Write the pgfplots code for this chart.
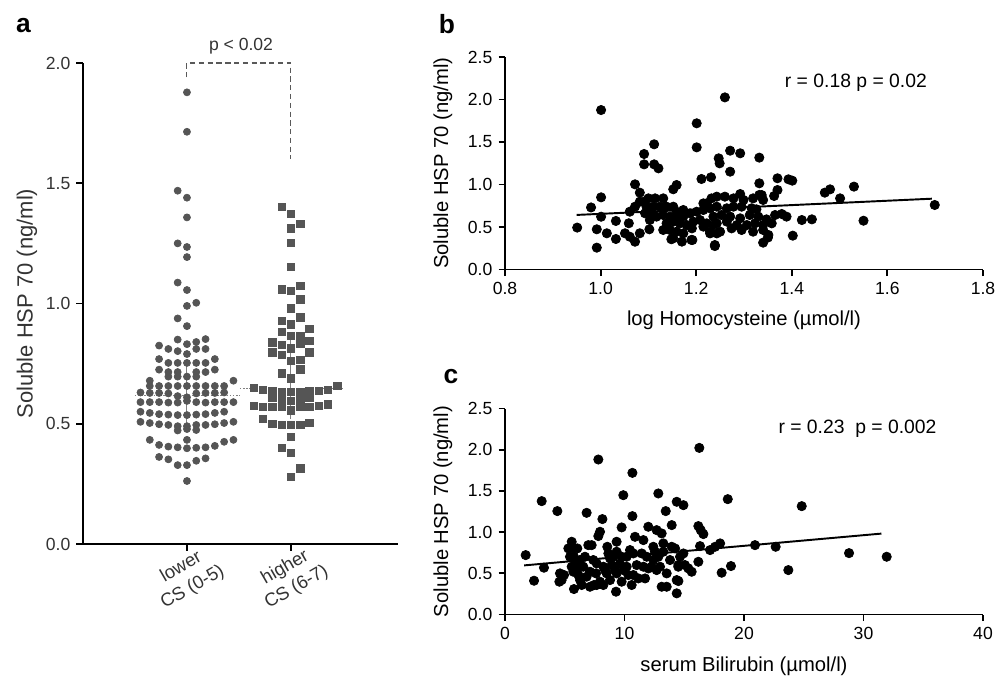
\documentclass[border=0pt]{standalone}
\usepackage{fontspec}
\setmainfont{Liberation Sans}
\usepackage{pgfplots}
\usepackage{pgfplotstable}
\pgfplotsset{compat=1.18}
\definecolor{dotgray}{HTML}{555555}
\definecolor{txtgray}{HTML}{333333}

% panel a: k = column offset in the swarm, v = HSP70 (ng/ml)
\pgfplotstableread{
k v
0 1.878
0 1.714
-1 1.469
0 1.440
0 1.358
-1 1.250
0 1.235
0 1.193
-1 1.087
0 1.056
1 1.003
0 0.990
-1 0.938
0 0.906
-1 0.850
0 0.831
1 0.840
2 0.852
-3 0.825
-2 0.811
-1 0.802
0 0.790
1 0.811
2 0.811
-3 0.769
-2 0.753
-1 0.753
0 0.753
1 0.753
2 0.753
3 0.769
-3 0.725
-2 0.715
-1 0.715
1 0.715
2 0.715
3 0.725
-2 0.696
-1 0.696
0 0.696
1 0.696
-4 0.679
5 0.679
-4 0.657
-3 0.657
-2 0.657
-1 0.657
0 0.657
1 0.657
2 0.657
3 0.657
4 0.657
-5 0.630
-4 0.628
-3 0.628
-2 0.626
1 0.626
2 0.628
3 0.628
4 0.630
-1 0.615
0 0.610
-5 0.590
-4 0.590
-3 0.590
-2 0.588
-1 0.588
0 0.595
1 0.590
2 0.588
3 0.590
4 0.590
5 0.590
-5 0.550
-4 0.545
-3 0.540
-2 0.538
-1 0.536
0 0.536
1 0.538
2 0.540
3 0.545
4 0.550
-5 0.508
-4 0.503
-3 0.498
-2 0.495
-1 0.490
0 0.490
1 0.495
2 0.495
3 0.498
4 0.503
5 0.508
-1 0.472
0 0.478
1 0.474
-4 0.433
0 0.433
4 0.425
5 0.433
-3 0.412
-2 0.405
-1 0.402
0 0.398
1 0.400
2 0.402
3 0.408
-3 0.362
-2 0.352
-1 0.328
0 0.328
1 0.346
2 0.356
0 0.262
}\lowergrp

\pgfplotstableread{
k v
-1 1.403
0 1.372
0 1.313
1 1.331
0 1.253
0 1.153
-1 1.059
0 1.052
1 1.073
1 1.017
0 0.980
-1 0.929
1 0.943
0 0.913
-1 0.883
2 0.894
0 0.866
1 0.866
-2 0.839
-1 0.827
1 0.832
2 0.845
-2 0.797
-1 0.786
0 0.814
2 0.797
0 0.761
1 0.765
-1 0.710
1 0.726
0 0.689
-4 0.650
-3 0.640
-2 0.637
-1 0.633
0 0.633
1 0.633
2 0.637
3 0.637
4 0.642
5 0.657
-2 0.610
-1 0.599
0 0.596
1 0.599
2 0.610
-4 0.575
-3 0.571
-2 0.571
-1 0.571
0 0.555
1 0.571
2 0.571
3 0.575
4 0.580
-3 0.520
-2 0.500
-1 0.496
0 0.496
1 0.496
2 0.505
0 0.446
-1 0.400
0 0.380
1 0.315
0 0.280
}\highergrp

% panel b: log homocysteine vs HSP70
\pgfplotstableread{
x y
0.951 0.493
0.980 0.730
0.992 0.473
0.992 0.257
1.001 1.876
1.001 0.849
1.001 0.621
1.013 0.426
1.032 0.571
1.032 0.359
1.051 0.426
1.059 0.544
1.061 0.386
1.072 0.327
1.072 1.002
1.082 0.426
1.082 0.904
1.091 1.359
1.091 1.237
1.112 1.473
1.112 1.237
1.121 1.190
1.102 0.473
1.159 0.994
1.152 0.944
1.201 1.720
1.201 1.437
1.211 1.065
1.231 1.085
1.247 1.308
1.249 1.249
1.260 2.025
1.271 1.398
1.292 1.367
1.271 1.151
1.332 1.316
1.370 1.073
1.393 1.061
1.401 1.045
1.332 1.014
1.370 0.935
1.363 0.865
1.332 0.877
1.469 0.904
1.480 0.943
1.530 0.975
1.501 0.837
1.292 0.888
1.421 0.582
1.442 0.590
1.550 0.574
1.402 0.398
1.239 0.276
1.340 0.316
1.350 0.376
1.699 0.759
1.190 0.348
1.148 0.356
1.091 0.798
1.100 0.837
1.114 0.837
1.131 0.837
1.096 0.739
1.110 0.739
1.124 0.739
1.138 0.739
1.152 0.739
1.159 0.680
1.173 0.700
1.093 0.661
1.107 0.661
1.117 0.622
1.131 0.641
1.145 0.622
1.159 0.602
1.173 0.622
1.187 0.661
1.201 0.680
1.215 0.700
1.229 0.720
1.243 0.739
1.215 0.778
1.232 0.837
1.138 0.543
1.152 0.563
1.166 0.543
1.180 0.523
1.194 0.563
1.208 0.582
1.222 0.543
1.236 0.523
1.131 0.465
1.145 0.465
1.159 0.445
1.173 0.425
1.191 0.484
1.215 0.504
1.229 0.445
1.243 0.425
1.152 0.367
1.170 0.328
1.192 0.347
1.239 0.288
1.103 0.582
1.082 0.798
1.072 0.739
1.061 0.680
1.243 0.857
1.260 0.857
1.278 0.837
1.299 0.818
1.319 0.837
1.337 0.876
1.340 0.818
1.222 0.778
1.264 0.720
1.278 0.739
1.295 0.739
1.316 0.720
1.326 0.708
1.236 0.622
1.253 0.641
1.271 0.622
1.292 0.602
1.312 0.641
1.330 0.622
1.347 0.590
1.365 0.641
1.379 0.653
1.389 0.622
1.243 0.543
1.264 0.563
1.285 0.523
1.306 0.523
1.323 0.543
1.340 0.523
1.358 0.543
1.250 0.445
1.274 0.484
1.295 0.465
1.319 0.445
1.340 0.465
1.351 0.406
1.229 0.425
}\homocys

% panel c: serum bilirubin vs HSP70
\pgfplotstableread{
x y
1.73 0.721
2.43 0.410
3.07 1.376
3.26 0.568
4.38 1.255
4.60 0.499
4.55 0.398
4.74 0.418
4.94 0.479
5.58 0.883
5.30 0.802
5.72 0.802
6.05 0.802
5.77 0.701
5.86 0.600
6.00 0.539
6.14 0.479
6.28 0.418
5.72 0.519
5.58 0.580
5.77 0.309
6.42 0.358
6.83 1.234
6.97 0.842
7.25 0.842
6.69 0.701
6.55 0.580
6.83 0.459
7.11 0.337
7.45 0.358
7.81 1.881
8.15 1.158
7.95 1.004
7.81 0.952
7.62 0.499
7.67 0.358
7.95 0.398
8.23 0.358
8.37 0.539
8.56 0.822
8.79 0.681
8.93 0.600
9.21 0.539
9.34 0.883
9.29 0.277
9.76 1.057
9.90 1.448
9.62 0.620
9.90 0.539
10.18 0.580
10.32 0.479
9.34 0.499
10.66 1.719
10.66 1.194
10.88 0.943
11.58 0.903
10.74 0.741
11.44 0.741
11.02 0.600
11.58 0.580
10.74 0.479
11.16 0.438
10.60 0.358
11.99 1.065
12.55 0.762
12.41 0.661
12.27 0.580
12.69 0.539
12.83 1.469
12.69 1.024
13.11 0.984
13.45 1.255
13.95 1.085
13.25 0.863
13.95 0.822
13.25 0.762
13.81 0.661
12.97 0.580
13.53 0.499
13.11 0.337
13.53 0.337
14.37 0.257
14.37 0.418
14.50 0.580
14.37 1.368
14.23 0.802
5.44 0.701
6.28 0.661
7.39 0.661
7.67 0.620
8.23 0.580
8.51 0.499
8.79 0.418
9.07 0.701
9.76 0.701
10.18 0.701
10.46 0.782
11.86 0.701
12.00 0.559
12.83 0.701
9.34 0.762
7.11 0.519
8.65 0.741
12.41 0.822
11.72 0.438
9.76 0.398
16.26 2.022
14.93 1.327
18.64 1.400
24.83 1.315
16.18 1.073
16.38 1.024
16.60 0.976
14.93 0.741
14.65 0.701
16.32 0.830
17.16 0.782
17.58 0.822
18.00 0.863
20.92 0.842
22.65 0.822
28.79 0.745
31.94 0.701
23.71 0.539
18.13 0.507
18.91 0.588
16.18 0.640
14.51 0.600
15.06 0.600
15.34 0.560
15.62 0.519
14.51 0.406
}\bilirubin

\pgfplotsset{
  panel/.style={
    scale only axis, clip=false,
    axis x line*=bottom, axis y line*=left,
    axis line style={line width=1.1pt, black},
    every tick/.style={line width=1.1pt, black},
    tick align=outside, major tick length=1.3mm,
    tick label style={font=\fontsize{10}{12}\selectfont},
    /pgf/number format/assume math mode=true,
    label style={font=\fontsize{11.5}{13}\selectfont},
  },
  onedec/.style={/pgf/number format/.cd, fixed, fixed zerofill, precision=1},
  bigdot/.style={only marks, mark=*, mark size=2.65pt, black},
}

\begin{document}
\begin{tikzpicture}
\useasboundingbox (0,0) rectangle (201mm,-136mm);

% ---- a ----
\begin{axis}[panel, at={(16.6mm,-108.8mm)}, anchor=south west,
  width=63mm, height=96.2mm,
  xmin=0, xmax=3.03, ymin=0, ymax=2,
  xtick={1,2}, xticklabels={lower\\CS (0-5), higher\\CS (6-7)},
  xticklabel style={yshift=-5.4mm, rotate=30, anchor=center, align=center,
    font=\fontsize{10.5}{13}\selectfont, text=txtgray},
  ytick={0,0.5,1,1.5,2}, yticklabel style={text=txtgray, onedec},
  ylabel={Soluble HSP 70 (ng/ml)},
  ylabel style={at={(axis description cs:-0.178,0.5)}, anchor=center,
    font=\fontsize{12.5}{14}\selectfont, text=txtgray},
]
\addplot[only marks, mark=*, mark size=2pt, dotgray]
  table[x expr={1+0.0894*\thisrow{k}}, y=v] {\lowergrp};
\addplot[only marks, mark=square*, mark size=2.1pt, dotgray]
  table[x expr={2+0.0894*\thisrow{k}}, y=v] {\highergrp};
% medians (dotted) and interquartile ranges
\addplot[gray, densely dotted, line width=0.8pt] coordinates {(0.5,0.617) (1.51,0.617)};
\addplot[gray, densely dotted, line width=0.8pt] coordinates {(1.51,0.647) (2.5,0.647)};
\addplot[gray, line width=0.6pt] coordinates {(1,0.49) (1,0.753)};
\addplot[gray, line width=0.6pt] coordinates {(2,0.52) (2,0.862)};
\draw[densely dashed, gray!70!black, line width=0.6pt]
  (axis cs:1,1.94) -- (axis cs:1,2) -- (axis cs:2,2) -- (axis cs:2,1.6);
\node[font=\fontsize{10}{12}\selectfont, text=txtgray] at (axis cs:1.52,2.071) {p < 0.02};
\end{axis}

% ---- b ----
\begin{axis}[panel, at={(101mm,-53.9mm)}, anchor=south west,
  width=95.6mm, height=42.5mm,
  xmin=0.8, xmax=1.8, ymin=0, ymax=2.5,
  xtick={0.8,1,1.2,1.4,1.6,1.8}, xticklabel style={onedec},
  ytick={0,0.5,1,1.5,2,2.5}, yticklabel style={onedec},
  xlabel={log Homocysteine (µmol/l)},
  xlabel style={at={(axis description cs:0.5,-0.24)}, anchor=center},
  ylabel={Soluble HSP 70 (ng/ml)},
  ylabel style={at={(axis description cs:-0.13,0.5)}, anchor=center},
]
\addplot[bigdot] table[x=x, y=y] {\homocys};
\addplot[black, line width=1.1pt] coordinates {(0.95,0.642) (1.693,0.833)};
\node[font=\fontsize{11}{13}\selectfont] at (axis cs:1.534,2.194) {r = 0.18 p = 0.02};
\end{axis}

% ---- c ----
\begin{axis}[panel, at={(101mm,-122.9mm)}, anchor=south west,
  width=95.6mm, height=41.2mm,
  xmin=0, xmax=40, ymin=0, ymax=2.5,
  xtick={0,10,20,30,40},
  ytick={0,0.5,1,1.5,2,2.5}, yticklabel style={onedec},
  xlabel={serum Bilirubin (µmol/l)},
  xlabel style={at={(axis description cs:0.5,-0.252)}, anchor=center},
  ylabel={Soluble HSP 70 (ng/ml)},
  ylabel style={at={(axis description cs:-0.13,0.5)}, anchor=center},
]
\addplot[bigdot] table[x=x, y=y] {\bilirubin};
\addplot[black, line width=1.1pt] coordinates {(1.6,0.596) (31.5,0.982)};
\node[font=\fontsize{11}{13}\selectfont] at (axis cs:29.5,2.25) {r = 0.23~~p = 0.002};
\end{axis}

\node[font=\bfseries\fontsize{15}{15}\selectfont] at (4.7mm,-5.2mm) {a};
\node[font=\bfseries\fontsize{15}{15}\selectfont] at (89.4mm,-4.8mm) {b};
\node[font=\bfseries\fontsize{15}{15}\selectfont] at (90.2mm,-75.4mm) {c};
\end{tikzpicture}
\end{document}
